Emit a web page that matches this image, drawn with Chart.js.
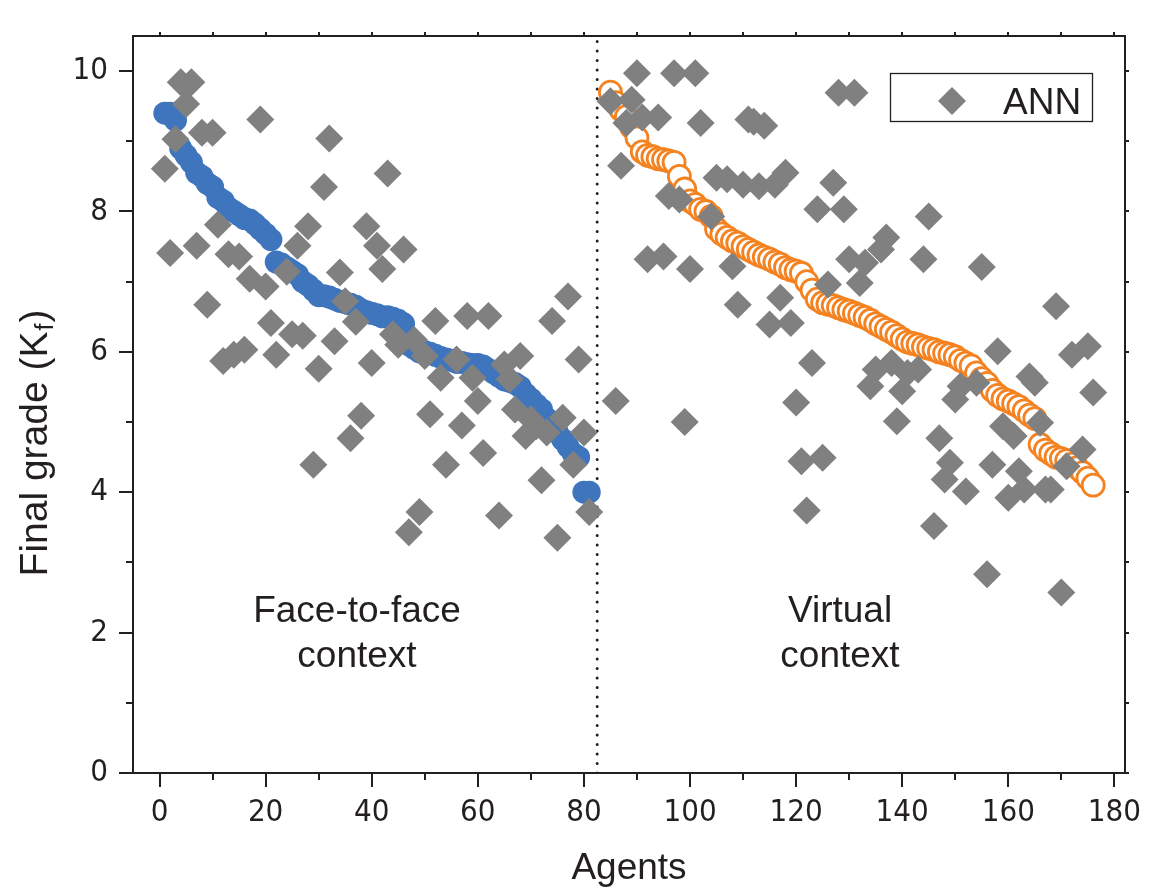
<!DOCTYPE html>
<html>
<head>
<meta charset="utf-8">
<script src="https://cdn.jsdelivr.net/npm/chart.js@4.4.1/dist/chart.umd.min.js"></script>
<style>
	html, body { margin: 0; padding: 0; background: #fff; }
	#wrap { width: 1154px; height: 888px; }
</style>
</head>
<body>
<div id="wrap"><canvas id="mycanvas" width="1154" height="888"></canvas></div>
<script>
// face-to-face context, agents 1..81
var faceStart = 1;
var faceGrades = [9.4, 9.4, 9.3, 8.9, 8.8, 8.7, 8.55, 8.5, 8.4, 8.35,
	8.2, 8.15, 8.05, 8.0, 7.95, 7.9, 7.88, 7.82, 7.75, 7.68,
	7.6, 7.28, 7.25, 7.2, 7.15, 7.1, 7.0, 6.95, 6.88, 6.8,
	6.8, 6.78, 6.75, 6.72, 6.7, 6.68, 6.65, 6.6, 6.57, 6.55,
	6.53, 6.5, 6.5, 6.48, 6.45, 6.4, 6.1, 6.05, 6.0, 6.0,
	5.98, 5.95, 5.92, 5.9, 5.88, 5.85, 5.85, 5.83, 5.82, 5.82,
	5.8, 5.75, 5.7, 5.65, 5.6, 5.58, 5.55, 5.5, 5.4, 5.33,
	5.25, 5.18, 5.05, 4.95, 4.85, 4.75, 4.65, 4.55, 4.5, 4.0, 4.0];

// virtual context, agents 85..176
var virtualStart = 85;
var virtualGrades = [9.7, 9.55, 9.45, 9.35, 9.2, 9.05, 8.85, 8.8, 8.78, 8.75,
	8.74, 8.72, 8.7, 8.5, 8.32, 8.15, 8.1, 8.03, 8.0, 7.93,
	7.75, 7.68, 7.63, 7.58, 7.55, 7.5, 7.46, 7.42, 7.38, 7.35,
	7.32, 7.28, 7.25, 7.2, 7.17, 7.15, 7.12, 7.0, 6.88, 6.75,
	6.7, 6.68, 6.66, 6.63, 6.6, 6.58, 6.55, 6.52, 6.49, 6.45,
	6.4, 6.36, 6.32, 6.28, 6.23, 6.18, 6.14, 6.12, 6.1, 6.07,
	6.05, 6.03, 6.0, 5.98, 5.96, 5.93, 5.88, 5.84, 5.8, 5.7,
	5.62, 5.55, 5.45, 5.38, 5.33, 5.3, 5.26, 5.22, 5.16, 5.1,
	5.05, 4.68, 4.6, 4.55, 4.5, 4.48, 4.45, 4.4, 4.35, 4.28, 4.2, 4.1];

// ANN predictions
var annAgents = [1, 2, 3, 4, 5, 6, 7, 8, 9, 10, 11, 12, 13, 14, 15, 16, 17, 19, 20,
	21, 22, 24, 25, 26, 27, 28, 29, 30, 31, 32, 33, 34, 35, 36, 37, 38, 39, 40,
	41, 42, 43, 44, 45, 46, 47, 48, 49, 50, 51, 52, 53, 54, 56, 57, 58, 59, 60,
	61, 62, 64, 65, 66, 67, 68, 69, 70, 71, 72, 73, 74, 75, 76, 77, 78, 79, 80, 81,
	85, 86, 87, 88, 89, 90, 91, 92, 94, 95, 96, 97, 98, 99, 100,
	101, 102, 104, 105, 107, 108, 109, 110, 111, 112, 113, 114, 115, 116, 117, 118, 119, 120,
	121, 122, 123, 124, 125, 126, 127, 128, 129, 130, 131, 132, 133, 134, 135, 136, 137, 138, 139, 140,
	141, 143, 144, 145, 146, 147, 148, 149, 150, 151, 152, 154, 155, 156, 157, 158, 159, 160,
	161, 162, 163, 164, 165, 166, 167, 168, 169, 170, 171, 172, 174, 175, 176];
var annGrades = [8.61, 7.41, 9.03, 9.84, 9.53, 9.84, 7.51, 9.12, 6.67, 9.12, 7.81, 5.87, 7.39, 5.96, 7.36, 6.03, 7.04, 9.31, 6.93,
	6.41, 5.96, 7.14, 6.25, 7.51, 6.23, 7.79, 4.39, 5.76, 8.35, 9.04, 6.15, 7.13, 6.72, 4.77, 6.43, 5.09, 7.79, 5.84,
	7.51, 7.18, 8.54, 6.25, 6.1, 7.46, 3.43, 6.17, 3.72, 5.94, 5.11, 6.44, 5.63, 4.39, 5.89, 4.95, 6.51, 5.63, 5.3,
	4.56, 6.51, 3.67, 5.82, 5.61, 5.18, 5.94, 4.8, 5.04, 4.94, 4.17, 4.85, 6.44, 3.35, 5.06, 6.79, 4.39, 5.89, 4.85, 3.72,
	9.57, 5.3, 8.65, 9.26, 9.59, 9.97, 9.34, 7.32, 9.34, 7.36, 8.22, 9.97, 8.17, 5.0, 7.18,
	9.97, 9.26, 7.93, 8.48, 8.46, 7.22, 6.67, 8.38, 9.31, 9.28, 8.36, 9.22, 6.39, 8.38, 6.77, 8.55, 6.41, 5.28,
	4.44, 3.74, 5.84, 8.03, 4.49, 6.96, 8.41, 9.69, 8.03, 7.32, 9.69, 6.98, 7.27, 5.51, 5.75, 7.46, 7.63, 5.84, 5.01, 5.44,
	5.7, 5.75, 7.32, 7.93, 3.52, 4.77, 4.18, 4.42, 5.32, 5.51, 4.01, 5.56, 7.21, 2.83, 4.39, 6.01, 4.94, 3.92,
	4.8, 4.3, 4.04, 5.65, 5.56, 4.99, 4.04, 4.04, 6.65, 2.57, 4.37, 5.96, 4.61, 6.08, 5.42];

var xTicks = [0, 20, 40, 60, 80, 100, 120, 140, 160, 180];
var xMinor = [10, 30, 50, 70, 90, 110, 130, 150, 170];
var yTicks = [0, 2, 4, 6, 8, 10];
var yMinor = [1, 3, 5, 7, 9];
var splitAgent = 82.5;

var ink = '#231f20';
var textFont = '"Liberation Sans", Arial, sans-serif';

function toPoints(start, grades) {
	var pts = [];
	for (var i = 0; i < grades.length; i++) {
		pts.push({x: start + i, y: grades[i]});
	}
	return pts;
}

var annPoints = [];
for (var i = 0; i < annAgents.length; i++) {
	annPoints.push({x: annAgents[i], y: annGrades[i]});
}

// keep the plot box where it is in the figure
function fixBox(size) {
	return function(s) {
		if (s.isHorizontal()) { s.height = size; } else { s.width = size; }
		s.paddingLeft = 0; s.paddingRight = 0; s.paddingTop = 0; s.paddingBottom = 0;
	};
}

// tick marks (major + minor), y title, legend box and context labels
var decorations = {
	id: 'decorations',
	afterDraw: function(chart) {
		var ctx = chart.ctx;
		var a = chart.chartArea;
		var sx = chart.scales.x;
		var sy = chart.scales.y;
		ctx.save();
		ctx.strokeStyle = ink;
		ctx.lineWidth = 2;
		ctx.beginPath();
		function xt(list, len) {
			list.forEach(function(v) {
				var p = Math.round(sx.getPixelForValue(v));
				ctx.moveTo(p, a.bottom); ctx.lineTo(p, a.bottom + len);
				ctx.moveTo(p, a.top); ctx.lineTo(p, a.top - 4);
			});
		}
		function yt(list, len) {
			list.forEach(function(v) {
				var p = Math.round(sy.getPixelForValue(v));
				ctx.moveTo(a.left, p); ctx.lineTo(a.left - len, p);
				ctx.moveTo(a.right, p); ctx.lineTo(a.right + 4, p);
			});
		}
		xt(xTicks, 14); xt(xMinor, 7);
		yt(yTicks, 14); yt(yMinor, 7);
		ctx.stroke();

		ctx.fillStyle = ink;
		ctx.textBaseline = 'alphabetic';
		ctx.textAlign = 'center';
		ctx.font = '37px ' + textFont;
		ctx.fillText('Face-to-face', 357, 622);
		ctx.fillText('context', 357, 667);
		ctx.fillText('Virtual', 840, 622);
		ctx.fillText('context', 840, 667);

		// y axis title with subscript
		ctx.save();
		ctx.translate(47, 443);
		ctx.rotate(-Math.PI / 2);
		ctx.textAlign = 'left';
		var t1 = 'Final grade (K', t2 = 'f', t3 = ')';
		ctx.font = '39px ' + textFont;
		var w1 = ctx.measureText(t1).width, w3 = ctx.measureText(t3).width;
		ctx.font = '25px ' + textFont;
		var w2 = ctx.measureText(t2).width + 2;
		var x0 = -(w1 + w2 + w3) / 2;
		ctx.font = '39px ' + textFont;
		ctx.fillText(t1, x0, 0);
		ctx.font = '25px ' + textFont;
		ctx.fillText(t2, x0 + w1 + 1, 6);
		ctx.font = '39px ' + textFont;
		ctx.fillText(t3, x0 + w1 + w2, 0);
		ctx.restore();

		// legend
		ctx.lineWidth = 1.3;
		ctx.strokeRect(890.5, 73.5, 202, 48);
		ctx.fillStyle = '#808080';
		ctx.beginPath();
		ctx.moveTo(952 - 14, 101); ctx.lineTo(952, 87); ctx.lineTo(952 + 14, 101); ctx.lineTo(952, 115);
		ctx.closePath();
		ctx.fill();
		ctx.fillStyle = ink;
		ctx.textAlign = 'left';
		ctx.font = '37px ' + textFont;
		ctx.fillText('ANN', 1003, 114);
		ctx.restore();
	}
};

var tickFont = {family: '"Liberation Sans Narrow", "DejaVu Sans Condensed", "Liberation Sans", sans-serif', size: 31};

var ctx = document.getElementById('mycanvas');
var chart = new Chart(ctx, {
	type: 'scatter',
	data: {
		datasets: [
			{
				label: 'ANN',
				data: annPoints,
				pointStyle: 'rectRot',
				pointRadius: 14,
				backgroundColor: '#808080',
				borderColor: '#808080',
				borderWidth: 0,
				order: 0
			},
			{
				label: 'Face-to-face',
				data: toPoints(faceStart, faceGrades),
				pointStyle: 'circle',
				pointRadius: 11.5,
				backgroundColor: '#3e75bd',
				borderWidth: 0,
				order: 1
			},
			{
				label: 'Virtual',
				data: toPoints(virtualStart, virtualGrades),
				pointStyle: 'circle',
				pointRadius: 11,
				backgroundColor: '#ffffff',
				borderColor: '#f58220',
				borderWidth: 2.8,
				order: 2
			},
			{
				type: 'line',
				label: 'split',
				data: [{x: splitAgent, y: 0}, {x: splitAgent, y: 10.5}],
				borderColor: ink,
				borderWidth: 3,
				borderDash: [0, 9.5],
				borderCapStyle: 'round',
				pointRadius: 0,
				order: 3
			}
		]
	},
	options: {
		responsive: false,
		animation: false,
		devicePixelRatio: 1,
		events: [],
		layout: {padding: 0},
		plugins: {
			legend: {display: false},
			tooltip: {enabled: false}
		},
		scales: {
			x: {
				type: 'linear',
				position: 'bottom',
				min: -5,
				max: 182,
				afterBuildTicks: function(s) { s.ticks = xTicks.map(function(v) { return {value: v}; }); },
				afterFit: fixBox(115),
				grid: {display: false, drawTicks: false},
				border: {display: true, color: ink, width: 2},
				ticks: {color: ink, font: tickFont, padding: 21, maxRotation: 0, autoSkip: false},
				title: {display: true, text: 'Agents', color: ink, padding: {top: 0, bottom: -3},
					font: {family: textFont, size: 37}}
			},
			x2: {
				type: 'linear',
				position: 'top',
				min: -5,
				max: 182,
				afterFit: fixBox(36),
				grid: {display: false, drawTicks: false},
				border: {display: true, color: ink, width: 2},
				ticks: {display: false}
			},
			y: {
				type: 'linear',
				position: 'left',
				min: 0,
				max: 10.5,
				afterBuildTicks: function(s) { s.ticks = yTicks.map(function(v) { return {value: v}; }); },
				afterFit: fixBox(133),
				grid: {display: false, drawTicks: false},
				border: {display: true, color: ink, width: 2},
				ticks: {color: ink, font: tickFont, padding: 25}
			},
			y2: {
				type: 'linear',
				position: 'right',
				min: 0,
				max: 10.5,
				afterFit: fixBox(29),
				grid: {display: false, drawTicks: false},
				border: {display: true, color: ink, width: 2},
				ticks: {display: false}
			}
		}
	},
	plugins: [decorations]
});
</script>
</body>
</html>
